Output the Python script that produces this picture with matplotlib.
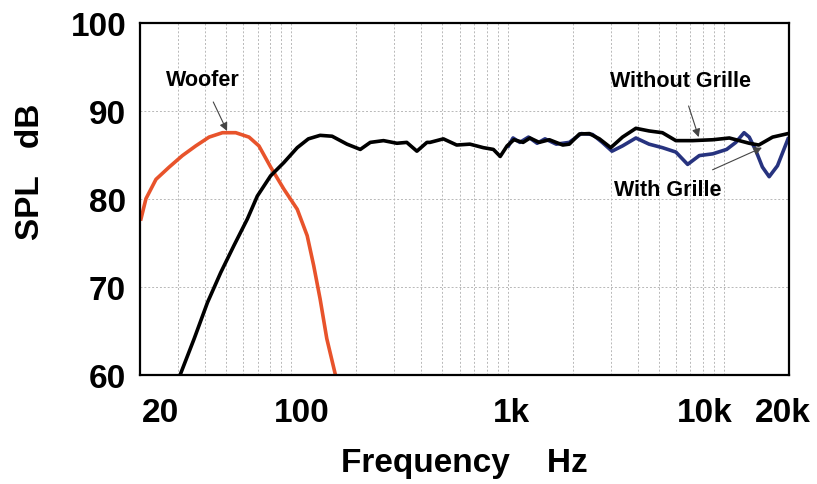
import numpy as np
import matplotlib
matplotlib.use("Agg")
import matplotlib.pyplot as plt
import matplotlib.transforms as mtransforms
from matplotlib.ticker import FixedLocator, NullFormatter

plt.rcParams["font.family"] = ["Liberation Sans", "DejaVu Sans"]
plt.rcParams["font.weight"] = "bold"
plt.rcParams["axes.labelweight"] = "bold"

# Woofer (red) response
woofer_f = [20.2, 21.3, 23.7, 27.3, 31.4, 36.2, 41.7, 48.1, 55.4, 63.8,
            70.9, 80.3, 92.4, 106.6, 118.5, 127, 136, 146, 160]
woofer_db = [77.7, 80.0, 82.2, 83.6, 84.9, 86.0, 87.0, 87.5, 87.5, 87.0,
             86.0, 83.6, 81.1, 78.8, 75.8, 72.4, 68.6, 64.1, 60.0]

# Without grille (black)
nogrille_f = [30.9, 35.6, 41.0, 47.2, 54.4, 62.7, 69.7, 80.3, 92.4, 106.6,
              120, 136, 154.5, 181, 208.6, 232, 267, 308, 342, 381,
              424, 438, 505, 582, 670, 773, 860, 925, 995, 1070,
              1180, 1270, 1400, 1560, 1800, 1930, 2150, 2390, 2660, 3000,
              3400, 3920, 4510, 5200, 6000, 7160, 8890, 10600, 13100, 14500,
              16800, 19800]
nogrille_db = [60.2, 64.1, 68.2, 71.6, 74.7, 77.7, 80.3, 82.6, 84.1, 85.8,
               86.8, 87.2, 87.1, 86.2, 85.6, 86.4, 86.6, 86.3, 86.4, 85.4,
               86.4, 86.4, 86.8, 86.1, 86.2, 85.8, 85.6, 84.8, 86.0, 86.7,
               86.4, 86.9, 86.4, 86.7, 86.1, 86.2, 87.35, 87.4, 86.8, 85.8,
               87.0, 88.0, 87.7, 87.5, 86.6, 86.6, 86.7, 86.9, 86.3, 86.1,
               87.0, 87.4]

# With grille (blue)
grille_f = [1010, 1060, 1140, 1250, 1370, 1490, 1680, 1930, 2190, 2470,
            2740, 3040, 3400, 3920, 4510, 5200, 6000, 6800, 7700, 8890,
            10300, 11360, 12400, 13100, 14040, 15070, 16200, 17700, 19800]
grille_db = [86.0, 86.9, 86.4, 87.0, 86.3, 86.8, 86.2, 86.4, 87.4, 87.3,
             86.4, 85.4, 86.0, 86.9, 86.2, 85.8, 85.3, 83.9, 84.9, 85.1,
             85.6, 86.4, 87.5, 87.0, 85.5, 83.6, 82.5, 83.75, 86.8]

xtick_vals = [20, 100, 1000, 10000, 20000]
xtick_labels = ["20", "100", "1k", "10k", "20k"]
xtick_shift_px = [20, 11, 4, -19, -6]
ytick_vals = [60, 70, 80, 90, 100]

fig = plt.figure(figsize=(8.17, 4.85), dpi=100)
ax = fig.add_axes([0.1714, 0.2254, 0.7943, 0.7257])

ax.plot(woofer_f, woofer_db, color="#e8532b", lw=2.6, solid_joinstyle="round")
ax.plot(grille_f, grille_db, color="#27337f", lw=2.6, solid_joinstyle="round")
ax.plot(nogrille_f, nogrille_db, color="black", lw=2.6, solid_joinstyle="round")

ax.set_xscale("log")
ax.set_xlim(20, 20000)
ax.set_ylim(60, 100)

minor = [m * d for d in (10, 100, 1000, 10000) for m in range(2, 10) if m * d <= 20000]
ax.xaxis.set_minor_locator(FixedLocator(minor))
ax.xaxis.set_minor_formatter(NullFormatter())
ax.set_xticks(xtick_vals)
ax.set_xticklabels(xtick_labels)
ax.set_yticks(ytick_vals)
ax.tick_params(axis="both", which="both", length=0, labelsize=24)
ax.tick_params(axis="x", pad=16)
ax.tick_params(axis="y", pad=10)
for lab, dx in zip(ax.get_xticklabels(), xtick_shift_px):
    lab.set_transform(lab.get_transform() +
                      mtransforms.ScaledTranslation(dx / 100, 0, fig.dpi_scale_trans))

ax.grid(True, which="both", axis="x", color="#b8b8b8", lw=0.7, ls=(0, (2, 2)))
ax.grid(True, which="major", axis="y", color="#b8b8b8", lw=0.7, ls=(0, (2, 2)))
for s in ax.spines.values():
    s.set_linewidth(1.6)

ax.set_xlabel("Frequency    Hz", fontsize=24, labelpad=14)
ax.set_ylabel("SPL   dB", fontsize=24)
ax.yaxis.set_label_coords(-0.145, 0.58)

arrow = dict(arrowstyle="-|>", color="#444444", lw=0.8, mutation_scale=12)
ax.annotate("Woofer", xy=(50.5, 87.7), xytext=(39, 93.5), fontsize=15.5,
            ha="center", va="center", arrowprops=dict(arrow, shrinkA=7, shrinkB=0))
ax.annotate("Without Grille", xy=(7650, 87.0), xytext=(6300, 93.4), fontsize=15.5,
            ha="center", va="center", arrowprops=dict(arrow, shrinkA=9, shrinkB=0))
ax.annotate("With Grille", xy=(15000, 85.8), xytext=(5500, 81.0), fontsize=15.5,
            ha="center", va="center", arrowprops=dict(arrow, shrinkA=12, shrinkB=0))

fig.savefig("out.png", dpi=100)
